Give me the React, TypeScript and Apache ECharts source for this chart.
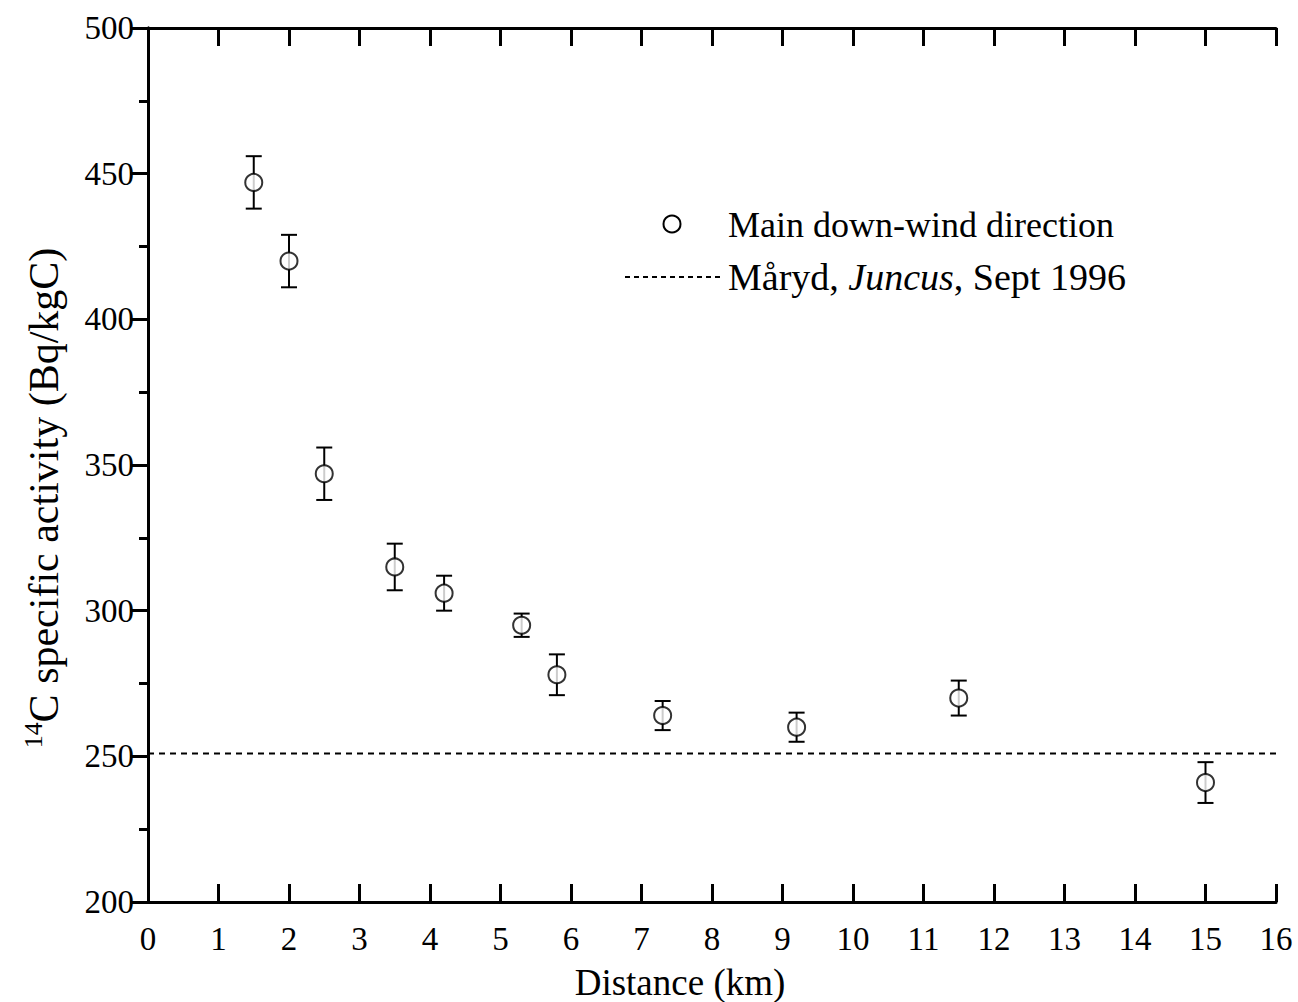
import React, { useEffect, useRef } from "react";
import * as echarts from "echarts";

const distances = [1.5, 2, 2.5, 3.5, 4.2, 5.3, 5.8, 7.3, 9.2, 11.5, 15];
const activity = [447, 420, 347, 315, 306, 295, 278, 264, 260, 270, 241];
const errors = [9, 9, 9, 8, 6, 4, 7, 5, 5, 6, 7];
const referenceLevel = 251;
const xRange = [0, 16];
const yRange = [200, 500];
const legendLabels = ["Main down-wind direction", "Måryd, {i|Juncus}, Sept 1996"];

const FONT = "Liberation Serif";

export default function App() {
  const ref = useRef<HTMLDivElement>(null);
  useEffect(() => {
    if (!ref.current) return;
    const chart = echarts.init(ref.current, undefined, { renderer: "svg" });
    const points = distances.map((d, i) => [d, activity[i]]);
    const bars = distances.map((d, i) => [d, activity[i] - errors[i], activity[i] + errors[i]]);
    const axisLine = { show: true, lineStyle: { color: "#000", width: 3 } };
    const option: any = {
      animation: false,
      backgroundColor: "#fff",
      grid: {
        left: 148,
        top: 28,
        right: 22,
        bottom: 100,
        containLabel: false,
        outerBoundsMode: "none",
      },
      xAxis: [
        {
          type: "value",
          min: xRange[0],
          max: xRange[1],
          interval: 1,
          position: "bottom",
          axisLine,
          axisTick: { show: true, inside: true, length: 18, lineStyle: { color: "#000", width: 3 } },
          axisLabel: { color: "#000", fontFamily: FONT, fontSize: 33, margin: 20 },
          splitLine: { show: false },
          name: "Distance (km)",
          nameLocation: "middle",
          nameGap: 62,
          nameTextStyle: { color: "#000", fontFamily: FONT, fontSize: 37, padding: [0, 64, 0, 0] },
        },
        {
          type: "value",
          min: xRange[0],
          max: xRange[1],
          interval: 1,
          position: "top",
          axisLine,
          axisTick: { show: true, inside: true, length: 18, lineStyle: { color: "#000", width: 3 } },
          axisLabel: { show: false },
          splitLine: { show: false },
        },
      ],
      yAxis: [
        {
          type: "value",
          min: yRange[0],
          max: yRange[1],
          interval: 50,
          position: "left",
          axisLine,
          axisTick: { show: true, inside: true, length: -18, lineStyle: { color: "#000", width: 3 } },
          minorTick: { show: true, splitNumber: 2, length: -9, lineStyle: { color: "#000", width: 3 } },
          axisLabel: { color: "#000", fontFamily: FONT, fontSize: 33, margin: 14 },
          splitLine: { show: false },
          minorSplitLine: { show: false },
        },
        {
          type: "value",
          min: yRange[0],
          max: yRange[1],
          interval: 50,
          position: "right",
          axisLine,
          axisTick: { show: true, inside: true, length: 18, lineStyle: { color: "#000", width: 3 } },
          minorTick: { show: true, splitNumber: 2, length: 9, lineStyle: { color: "#000", width: 3 } },
          axisLabel: { show: false },
          splitLine: { show: false },
          minorSplitLine: { show: false },
        },
      ],
      series: [
        {
          type: "line",
          data: [[xRange[0], referenceLevel], [xRange[1], referenceLevel]],
          symbol: "none",
          lineStyle: { color: "#000", width: 2, type: [6, 5] },
          silent: true,
        },
        {
          type: "custom",
          data: bars,
          renderItem: (params: any, api: any) => {
            const x = api.value(0);
            const lo = api.coord([x, api.value(1)]);
            const hi = api.coord([x, api.value(2)]);
            const hw = 8;
            const style = { stroke: "#000", lineWidth: 2 };
            return {
              type: "group",
              children: [
                { type: "line", shape: { x1: lo[0], y1: lo[1], x2: hi[0], y2: hi[1] }, style },
                { type: "line", shape: { x1: lo[0] - hw, y1: lo[1], x2: lo[0] + hw, y2: lo[1] }, style },
                { type: "line", shape: { x1: hi[0] - hw, y1: hi[1], x2: hi[0] + hw, y2: hi[1] }, style },
              ],
            };
          },
          z: 2,
        },
        {
          type: "scatter",
          data: points,
          symbol: "circle",
          symbolSize: 17,
          itemStyle: { color: "#fff", borderColor: "#000", borderWidth: 2 },
          z: 3,
        },
      ],
      graphic: [
        {
          type: "text",
          x: 44,
          y: 498,
          rotation: Math.PI / 2,
          style: {
            text: "{sup|14}C specific activity (Bq/kgC)",
            fill: "#000",
            fontFamily: FONT,
            fontSize: 42,
            align: "center",
            verticalAlign: "middle",
            rich: {
              sup: { fontSize: 26, fontFamily: FONT, verticalAlign: "top", lineHeight: 48 },
            },
          },
        },
        {
          type: "circle",
          shape: { cx: 672, cy: 224, r: 8.5 },
          style: { fill: "#fff", stroke: "#000", lineWidth: 2 },
        },
        {
          type: "text",
          x: 728,
          y: 225,
          style: {
            text: legendLabels[0],
            fill: "#000",
            fontFamily: FONT,
            fontSize: 36,
            verticalAlign: "middle",
          },
        },
        {
          type: "line",
          shape: { x1: 625, y1: 277, x2: 720, y2: 277 },
          style: { stroke: "#000", lineWidth: 2, lineDash: [5, 4] },
        },
        {
          type: "text",
          x: 728,
          y: 277,
          style: {
            text: legendLabels[1],
            fill: "#000",
            fontFamily: FONT,
            fontSize: 38,
            verticalAlign: "middle",
            rich: { i: { fontStyle: "italic", fontFamily: FONT, fontSize: 38 } },
          },
        },
      ],
    };
    chart.setOption(option);
    return () => chart.dispose();
  }, []);
  return (
    <div
      ref={ref}
      style={{ position: "fixed", left: 0, top: 0, width: 1298, height: 1002, background: "#fff" }}
    />
  );
}
